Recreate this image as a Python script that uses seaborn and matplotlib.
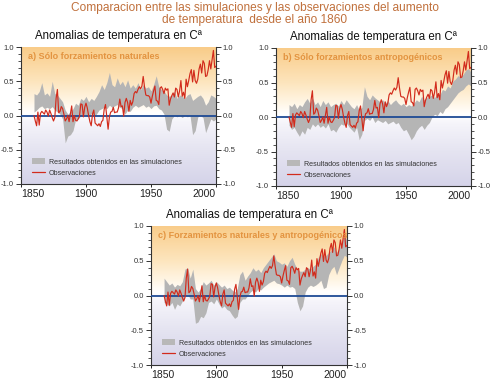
import numpy as np
import pandas as pd
import matplotlib
matplotlib.use("Agg")
import matplotlib.pyplot as plt
import seaborn as sns
from matplotlib.colors import LinearSegmentedColormap
from matplotlib.patches import Patch
from matplotlib.lines import Line2D

sns.set_theme(style="white")
plt.rcParams['font.family'] = ['Liberation Sans Narrow', 'Liberation Sans', 'DejaVu Sans']

# ---------------- data ----------------
obs_years = list(range(1860, 2001))
obs_values = [
    0.00, -0.08, -0.15, 0.05, -0.14, 0.03, 0.06, 0.04, 0.02, 0.08,
    0.05, -0.01, 0.08, 0.03, -0.03, -0.08, -0.03, 0.25, 0.38, 0.04,
    0.06, 0.13, 0.10, 0.02, -0.08, -0.05, 0.00, -0.09, 0.03, 0.14,
    -0.09, 0.00, -0.07, -0.08, -0.05, -0.01, 0.17, 0.16, -0.02, 0.12,
    0.18, 0.11, 0.00, -0.09, -0.15, 0.02, 0.08, -0.11, -0.13, -0.15,
    -0.12, -0.16, -0.09, -0.07, 0.09, 0.16, -0.02, -0.20, -0.02, 0.05,
    0.06, 0.12, 0.04, 0.05, 0.05, 0.11, 0.24, 0.13, 0.14, -0.01,
    0.19, 0.25, 0.19, 0.06, 0.22, 0.15, 0.20, 0.32, 0.35, 0.33,
    0.38, 0.42, 0.39, 0.43, 0.57, 0.42, 0.30, 0.29, 0.29, 0.27,
    0.18, 0.28, 0.36, 0.43, 0.22, 0.21, 0.16, 0.40, 0.42, 0.38,
    0.32, 0.40, 0.37, 0.39, 0.15, 0.24, 0.29, 0.33, 0.27, 0.40,
    0.38, 0.27, 0.36, 0.51, 0.28, 0.34, 0.25, 0.53, 0.42, 0.51,
    0.61, 0.67, 0.49, 0.66, 0.51, 0.47, 0.53, 0.68, 0.75, 0.62,
    0.80, 0.76, 0.57, 0.58, 0.67, 0.80, 0.68, 0.82, 0.95, 0.70,
    0.72,
]

band_years = list(range(1860, 2001, 2))
a_upper = [0.32, 0.30, 0.35, 0.48, 0.30, 0.33, 0.28, 0.50, 0.32, 0.30,
           0.25, 0.20, 0.08, 0.02, 0.05, 0.10, 0.18, 0.15, 0.25, 0.22,
           0.28, 0.20, 0.25, 0.22, 0.28, 0.35, 0.45, 0.38, 0.48, 0.63,
           0.45, 0.42, 0.55, 0.45, 0.50, 0.42, 0.52, 0.40, 0.45, 0.40,
           0.48, 0.38, 0.45, 0.40, 0.42, 0.36, 0.45, 0.58, 0.42, 0.38,
           0.36, 0.30, 0.28, 0.30, 0.35, 0.25, 0.30, 0.28, 0.25, 0.30,
           0.32, 0.22, 0.25, 0.28, 0.30, 0.25, 0.15, 0.20, 0.30, 0.28,
           0.25]
a_lower = [0.05, 0.08, 0.12, 0.14, 0.10, 0.12, 0.10, 0.13, 0.08, 0.05,
           0.02, -0.05, -0.40, -0.30, -0.28, -0.22, -0.06, -0.05, 0.00, 0.02,
           0.00, -0.02, 0.03, -0.02, 0.02, 0.08, 0.10, 0.12, 0.10, 0.15,
           0.12, 0.14, 0.16, 0.12, 0.10, 0.02, 0.08, 0.06, 0.12, 0.15,
           0.12, 0.14, 0.16, 0.12, 0.14, 0.10, 0.14, 0.15, 0.10, 0.08,
           0.02, -0.20, -0.23, -0.05, 0.00, -0.02, 0.00, -0.03, 0.00, -0.02,
           0.00, -0.28, -0.22, -0.02, 0.00, -0.03, -0.25, -0.15, -0.05, -0.08,
           -0.05]
b_upper = [0.18, 0.15, 0.20, 0.12, 0.18, 0.15, 0.22, 0.27, 0.20, 0.28,
           0.18, 0.22, 0.15, 0.24, 0.18, 0.22, 0.15, 0.18, 0.20, 0.16,
           0.24, 0.18, 0.25, 0.20, 0.15, 0.12, 0.18, 0.10, 0.14, 0.44,
           0.30, 0.25, 0.32, 0.28, 0.25, 0.22, 0.25, 0.20, 0.24, 0.18,
           0.22, 0.25, 0.20, 0.17, 0.20, 0.15, 0.18, 0.16, 0.20, 0.25,
           0.22, 0.30, 0.25, 0.28, 0.30, 0.32, 0.28, 0.35, 0.32, 0.40,
           0.38, 0.45, 0.42, 0.52, 0.55, 0.60, 0.58, 0.62, 0.68, 0.70,
           0.65]
b_lower = [-0.12, -0.18, -0.15, -0.22, -0.28, -0.20, -0.25, -0.15, -0.18, -0.10,
           -0.14, -0.10, -0.15, -0.12, -0.16, -0.10, -0.20, -0.18, -0.22, -0.15,
           -0.10, -0.12, -0.08, -0.14, -0.18, -0.22, -0.15, -0.33, -0.25, -0.05,
           -0.02, -0.05, 0.00, -0.08, -0.04, -0.06, -0.08, -0.05, -0.10, -0.08,
           -0.06, -0.10, -0.08, -0.15, -0.20, -0.18, -0.25, -0.33, -0.28, -0.20,
           -0.15, -0.12, -0.18, -0.12, -0.08, 0.00, 0.04, 0.02, 0.08, 0.05,
           0.12, 0.15, 0.20, 0.25, 0.30, 0.35, 0.38, 0.40, 0.45, 0.48,
           0.45]
c_upper = [0.25, 0.20, 0.15, 0.18, 0.12, 0.16, 0.14, 0.20, 0.38, 0.40,
           0.25, 0.38, 0.10, 0.05, 0.10, 0.20, 0.15, 0.18, 0.22, 0.15,
           0.20, 0.16, 0.12, 0.15, 0.10, 0.12, 0.08, 0.05, 0.10, 0.30,
           0.35, 0.22, 0.28, 0.33, 0.40, 0.35, 0.38, 0.33, 0.40, 0.45,
           0.50, 0.55, 0.60, 0.50, 0.48, 0.45, 0.47, 0.42, 0.50, 0.55,
           0.45, 0.38, 0.35, 0.35, 0.38, 0.40, 0.38, 0.42, 0.45, 0.55,
           0.60, 0.55, 0.58, 0.62, 0.65, 0.70, 0.62, 0.68, 0.78, 0.85,
           0.80]
c_lower = [-0.10, -0.12, -0.15, -0.10, -0.20, -0.12, -0.15, -0.08, 0.00, 0.02,
           -0.05, -0.05, -0.40, -0.38, -0.30, -0.32, -0.25, -0.10, -0.08, -0.12,
           -0.05, -0.12, -0.18, -0.15, -0.20, -0.22, -0.28, -0.33, -0.30, -0.10,
           -0.05, -0.05, 0.00, 0.05, 0.08, 0.05, 0.10, 0.08, 0.12, 0.15,
           0.18, 0.20, 0.22, 0.18, 0.17, 0.15, 0.12, 0.15, 0.12, 0.13,
           0.10, -0.10, -0.22, -0.15, 0.05, 0.12, 0.15, 0.13, 0.15, 0.18,
           0.22, 0.10, 0.12, 0.30, 0.38, 0.42, 0.30, 0.40, 0.50, 0.58,
           0.55]

panel_labels = ["a) Sólo forzamientos naturales",
                "b) Sólo forzamientos antropogénicos",
                "c) Forzamientos naturales y antropogénicos"]
panel_title = "Anomalias de temperatura en Cª"
title_line1 = "Comparacion entre las simulaciones y las observaciones del aumento"
title_line2 = "de temperatura  desde el año 1860"
legend_sim = "Resultados obtenidos en las simulaciones"
legend_obs = "Observaciones"
xticks = [1850, 1900, 1950, 2000]
yticks = [-1.0, -0.5, 0.0, 0.5, 1.0]
ytick_labels = ["-1.0", "-0.5", "0.0", "0.5", "1.0"]

obs_df = pd.DataFrame({"year": obs_years, "anom": obs_values})
bands = [(a_lower, a_upper), (b_lower, b_upper), (c_lower, c_upper)]

# ---------------- style ----------------
W, H = 492, 380
fig = plt.figure(figsize=(W / 100, H / 100), dpi=100)
fig.patch.set_facecolor("white")

def frac(left, top, right, bottom):
    return [left / W, 1 - bottom / H, (right - left) / W, (bottom - top) / H]

positions = [frac(21, 47, 216, 184), frac(276, 48, 471, 186), frac(151, 226, 347, 365)]

grad_cmap = LinearSegmentedColormap.from_list("bg", [
    (0.00, "#D5D3E9"),
    (0.25, "#E5E4F1"),
    (0.45, "#F5F4FA"),
    (0.52, "#FFFFFF"),
    (0.60, "#FFF6E6"),
    (0.75, "#FDE5BD"),
    (1.00, "#F9CC89"),
])
grad = np.linspace(0, 1, 256).reshape(-1, 1)

gray = "#B5B5B5"
red = "#D22B1C"
blue = "#1E4A94"
title_col = "#C0703C"
label_col = "#E39440"

for ax_i, pos in enumerate(positions):
    ax = fig.add_axes(pos)
    ax.imshow(grad, origin="lower", extent=[1850, 2000, -1, 1], aspect="auto",
              cmap=grad_cmap, zorder=0, interpolation="bilinear")
    lo, up = bands[ax_i]
    ax.fill_between(band_years, lo, up, color=gray, lw=0, zorder=2)
    ax.axhline(0, color=blue, lw=1.3, zorder=3)
    sns.lineplot(data=obs_df, x="year", y="anom", ax=ax, color=red, lw=0.85, zorder=4)
    ax.set_xlim(1850, 2000)
    ax.set_ylim(-1, 1)
    ax.set_xlabel("")
    ax.set_ylabel("")
    ax.grid(False)
    ax.set_facecolor("white")
    for s in ["left", "right", "bottom"]:
        ax.spines[s].set_visible(True)
        ax.spines[s].set_color("#333333")
        ax.spines[s].set_linewidth(0.8)
    ax.spines["top"].set_visible(False)

    ax.set_yticks(yticks)
    ax.set_yticklabels(ytick_labels)
    ax.set_yticks(np.arange(-1.0, 1.01, 0.1), minor=True)
    ax.tick_params(axis="y", which="both", left=True, right=True, labelleft=True,
                   labelright=True, direction="out", colors="#333333",
                   labelsize=5.5, pad=1.5)
    ax.tick_params(axis="y", which="major", length=3.5, width=0.7)
    ax.tick_params(axis="y", which="minor", length=2, width=0.6)
    ax.set_xticks(xticks)
    ax.set_xticklabels([str(v) for v in xticks])
    ax.tick_params(axis="x", which="major", bottom=True, direction="out",
                   length=2, width=0.7, labelsize=7.5, pad=1.5, colors="#222222")
    xl = ax.get_xticklabels()
    xl[0].set_ha("left")
    xl[-1].set_ha("right")

    ax.text(0.5, 1.035, panel_title, transform=ax.transAxes, ha="center",
            va="bottom", fontsize=8.3, color="#111111")
    ax.text(0.035, 0.93, panel_labels[ax_i], transform=ax.transAxes, ha="left",
            va="center", fontsize=6.5, fontweight="bold", color=label_col, zorder=5)

    handles = [Patch(facecolor="#B8B8B8", edgecolor="none"),
               Line2D([0], [0], color=red, lw=0.9)]
    leg = ax.legend(handles, [legend_sim, legend_obs], loc="lower left",
                    bbox_to_anchor=(0.035, 0.02), frameon=False, fontsize=5.1,
                    handlelength=1.8, handleheight=0.9, handletextpad=0.6,
                    labelspacing=0.55, borderaxespad=0.2)
    for t in leg.get_texts():
        t.set_color("#333333")

fig.text(255 / W, 1 - 11 / H, title_line1, ha="center", va="baseline",
         fontsize=8.6, color=title_col)
fig.text(255 / W, 1 - 23 / H, title_line2, ha="center", va="baseline",
         fontsize=8.6, color=title_col)

fig.savefig("out.png", dpi=100, facecolor="white")
